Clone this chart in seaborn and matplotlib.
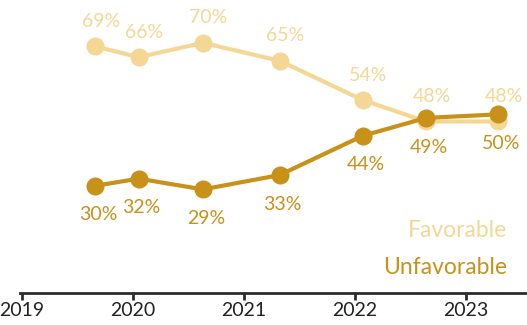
import matplotlib
matplotlib.use("Agg")
import matplotlib.pyplot as plt
import seaborn as sns
import pandas as pd

# Survey dates (decimal years) and shares
dates = [2019.66, 2020.05, 2020.63, 2021.32, 2022.07, 2022.64, 2023.29]
favorable = [69, 66, 70, 65, 54, 48, 48]
unfavorable = [30, 32, 29, 33, 44, 49, 50]
year_ticks = [2019, 2020, 2021, 2022, 2023]

fav_color = "#F5D795"
unfav_color = "#C8911A"

sns.set_theme(style="white")
plt.rcParams["font.family"] = ["Lato", "DejaVu Sans"]

df = pd.DataFrame({
    "date": dates * 2,
    "share": favorable + unfavorable,
    "view": ["Favorable"] * len(dates) + ["Unfavorable"] * len(dates),
})

fig = plt.figure(figsize=(5.27, 3.25), dpi=100)
ax = fig.add_axes([0, 32 / 325, 1, 293 / 325])

sns.lineplot(data=df, x="date", y="share", hue="view",
             palette={"Favorable": fav_color, "Unfavorable": unfav_color},
             marker="o", markersize=13, markeredgewidth=0, linewidth=3,
             legend=False, ax=ax)

for x, v in zip(dates, favorable):
    ax.annotate(f"{v}%", (x, v), xytext=(4, 18), textcoords="offset points",
                ha="center", va="center", color=fav_color, fontsize=14)
for x, v in zip(dates, unfavorable):
    ax.annotate(f"{v}%", (x, v), xytext=(2, -21), textcoords="offset points",
                ha="center", va="center", color=unfav_color, fontsize=14)

ax.text(0.962, 0.214, "Favorable", transform=ax.transAxes, ha="right",
        va="center", color=fav_color, fontsize=16.5)
ax.text(0.962, 0.087, "Unfavorable", transform=ax.transAxes, ha="right",
        va="center", color=unfav_color, fontsize=16.5)

ax.set_xlim(2019 - 22 / 111, 2019 + 505 / 111)
ax.set_ylim(0, 82)
ax.set_xticks(year_ticks)
ax.set_xticklabels([str(y) for y in year_ticks])
ax.set_yticks([])
ax.set_xlabel("")
ax.set_ylabel("")
for s in ["top", "left", "right"]:
    ax.spines[s].set_visible(False)
ax.spines["bottom"].set_color("#2b2b2b")
ax.spines["bottom"].set_linewidth(2)
ax.spines["bottom"].set_bounds(2018.98, 2019 + 505 / 111)
ax.tick_params(axis="x", direction="out", length=5, width=2, color="#2b2b2b",
               labelsize=14, labelcolor="#222222", pad=1.5, bottom=True)

fig.savefig("out.png", dpi=100)
